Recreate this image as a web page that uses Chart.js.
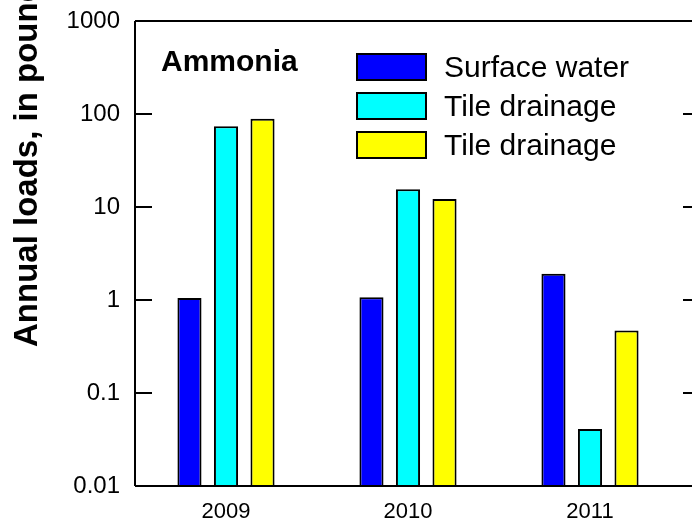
<!DOCTYPE html>
<html>
<head>
<meta charset="utf-8">
<script src="https://cdn.jsdelivr.net/npm/chart.js@4/dist/chart.umd.min.js"></script>
<style>
  html, body { margin: 0; padding: 0; background: #fff; overflow: hidden; }
  #c { display: block; }
</style>
</head>
<body>
<canvas id="c" width="692" height="522"></canvas>
<script>
const categories = ['2009', '2010', '2011'];
const seriesLabels = ['Surface water', 'Tile drainage', 'Tile drainage'];
const surfaceWater = [1.05, 1.07, 1.92];
const tileDrainageA = [74, 15.5, 0.041];
const tileDrainageB = [89, 12.2, 0.47];
const yTickValues = [0.01, 0.1, 1, 10, 100, 1000];
const yTickLabels = ['0.01', '0.1', '1', '10', '100', '1000'];
const chartTitle = 'Ammonia';
const yAxisTitle = 'Annual loads, in pounds';

const FONT = '"Liberation Sans", Arial, sans-serif';
const colors = ['#0000FF', '#00FFFF', '#FFFF00'];

const framePlugin = {
  id: 'frame',
  afterDraw(chart) {
    const ctx = chart.ctx;
    const area = chart.chartArea;
    const y = chart.scales.y;
    const W = chart.width;
    ctx.save();
    ctx.strokeStyle = '#000';
    ctx.lineWidth = 2;
    ctx.beginPath();
    ctx.moveTo(area.left, area.top); ctx.lineTo(W, area.top);
    ctx.moveTo(area.left, area.top); ctx.lineTo(area.left, area.bottom);
    ctx.moveTo(area.left, area.bottom); ctx.lineTo(W, area.bottom);
    yTickValues.forEach(v => {
      const py = Math.round(y.getPixelForValue(v));
      if (py <= area.top + 1 || py >= area.bottom - 1) return;
      ctx.moveTo(area.left, py); ctx.lineTo(area.left + 17, py);
      ctx.moveTo(W - 9, py); ctx.lineTo(W, py);
    });
    ctx.stroke();

    ctx.fillStyle = '#000';
    ctx.font = 'bold 30px ' + FONT;
    ctx.textAlign = 'left';
    ctx.textBaseline = 'alphabetic';
    ctx.fillText(chartTitle, 161, 71);

    const boxX = 357, boxW = 69, boxH = 26;
    const rowsTop = [54, 93, 132];
    ctx.font = '30px ' + FONT;
    chart.data.datasets.forEach((ds, i) => {
      const top = rowsTop[i];
      ctx.fillStyle = ds.backgroundColor;
      ctx.fillRect(boxX, top, boxW, boxH);
      ctx.lineWidth = 2;
      ctx.strokeStyle = '#000';
      ctx.strokeRect(boxX, top, boxW, boxH);
      ctx.fillStyle = '#000';
      ctx.fillText(ds.label, 444, top + 23);
    });

    ctx.save();
    ctx.translate(37, 347);
    ctx.rotate(-Math.PI / 2);
    ctx.font = 'bold 33px ' + FONT;
    ctx.textAlign = 'left';
    ctx.fillText(yAxisTitle, 0, 0);
    ctx.restore();
    ctx.restore();
  }
};

new Chart(document.getElementById('c'), {
  type: 'bar',
  data: {
    labels: categories,
    datasets: [
      { label: seriesLabels[0], data: surfaceWater, backgroundColor: colors[0] },
      { label: seriesLabels[1], data: tileDrainageA, backgroundColor: colors[1] },
      { label: seriesLabels[2], data: tileDrainageB, backgroundColor: colors[2] }
    ].map(d => Object.assign(d, {
      borderColor: '#000', borderWidth: 2, borderSkipped: 'start',
      categoryPercentage: 0.602, barPercentage: 0.66
    }))
  },
  options: {
    responsive: false,
    devicePixelRatio: 1,
    animation: false,
    layout: { padding: { top: 21, right: 11, left: 0, bottom: 0 } },
    plugins: { legend: { display: false }, tooltip: { enabled: false }, title: { display: false } },
    scales: {
      x: {
        type: 'category',
        offset: true,
        grid: { display: false, drawTicks: false },
        border: { display: false },
        ticks: { color: '#000', font: { family: FONT, size: 22 }, padding: 13, maxRotation: 0 },
        afterFit(s) { s.height = 36; s.paddingLeft = 0; s.paddingRight = 0; }
      },
      y: {
        type: 'logarithmic',
        min: 0.01,
        max: 1000,
        grid: { display: false, drawTicks: false },
        border: { display: false },
        afterBuildTicks(s) { s.ticks = yTickValues.map(v => ({ value: v })); },
        ticks: {
          color: '#000',
          font: { family: FONT, size: 24 },
          padding: 15,
          callback(v) { const i = yTickValues.indexOf(v); return i >= 0 ? yTickLabels[i] : ''; }
        },
        afterFit(s) { s.width = 135; s.paddingTop = 0; s.paddingBottom = 0; }
      }
    }
  },
  plugins: [framePlugin]
});
</script>
</body>
</html>
